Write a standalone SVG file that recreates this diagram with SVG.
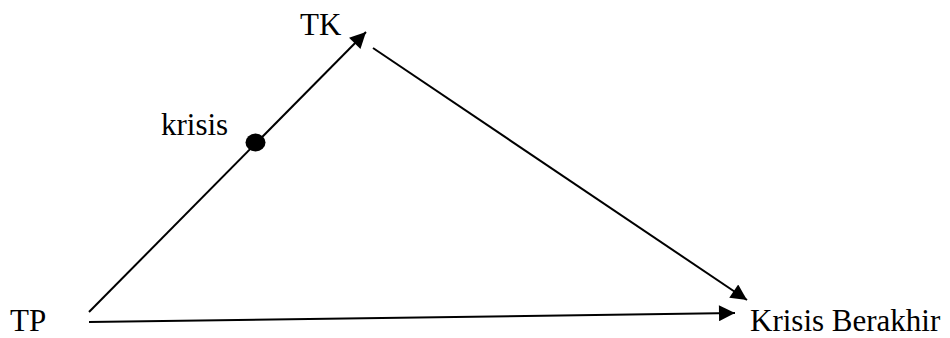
<svg xmlns="http://www.w3.org/2000/svg" width="950" height="338" viewBox="0 0 950 338">
<style>
text{font-family:'Liberation Serif','Times New Roman','DejaVu Serif',serif;font-size:31px;fill:#000}
.c{stroke:#000;stroke-width:2;fill:none}
</style>
<defs>
<marker id="ah" viewBox="0 0 10 10" refX="10" refY="5" markerWidth="9" markerHeight="8" markerUnits="strokeWidth" orient="auto">
<path d="M0,0 L10,5 L0,10 z" fill="#000"/>
</marker>
</defs>
<rect width="950" height="338" fill="#fff"/>
<g id="connectors">
<line class="c" x1="89" y1="312" x2="366" y2="32" marker-end="url(#ah)"/>
<line class="c" x1="373" y1="48" x2="747" y2="300" marker-end="url(#ah)"/>
<line class="c" x1="89" y1="322" x2="735" y2="313" marker-end="url(#ah)"/>
</g>
<g id="dot"><ellipse cx="255.5" cy="142.5" rx="10" ry="9" fill="#000"/></g>
<g id="TK"><text x="300" y="35">TK</text></g>
<g id="krisis"><text x="161" y="135">krisis</text></g>
<g id="TP"><text x="10" y="331">TP</text></g>
<g id="KB"><text x="750" y="331">Krisis Berakhir</text></g>
</svg>
